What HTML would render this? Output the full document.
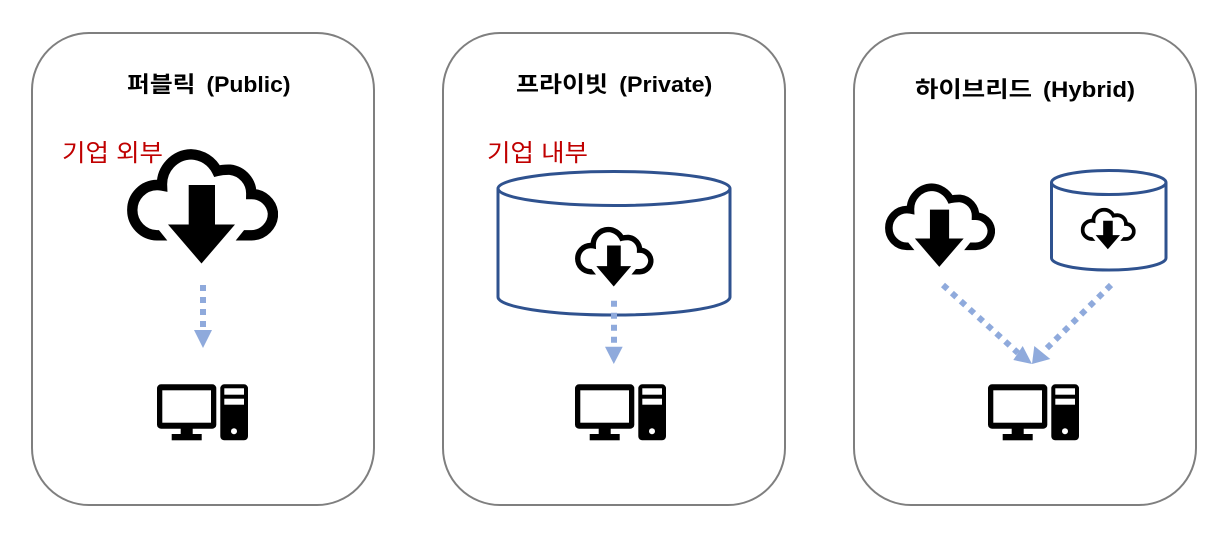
<!DOCTYPE html>
<html lang="ko">
<head>
<meta charset="utf-8">
<style>
html,body{margin:0;padding:0;background:#fff;width:1229px;height:540px;overflow:hidden}
svg{display:block}
.t{font-family:"Liberation Sans","Noto Sans CJK KR",sans-serif;font-weight:700;font-size:22px;fill:#000}
.k{font-family:"Noto Sans CJK KR","Liberation Sans",sans-serif;font-weight:700;font-size:22px;fill:#000}
.r{font-family:"Noto Sans CJK KR","Liberation Sans",sans-serif;font-weight:400;font-size:24px;fill:#C00000}
.p{fill:#fff;stroke:#7f7f7f;stroke-width:2}
.c{fill:#fff;stroke:#2F528F;stroke-width:3}
.d{fill:none;stroke:#8FAADC;stroke-width:6;stroke-dasharray:6 6}
.h{fill:#8FAADC}
</style>
</head>
<body>
<svg width="1229" height="540" viewBox="0 0 1229 540" xmlns="http://www.w3.org/2000/svg">
<defs>
<symbol id="cloud" viewBox="127 149 151 115" preserveAspectRatio="none">
<path d="M175 235.300H157A25.200 25.200 0 0 1 132.300 210A25 25 0 0 1 157 185Q159.500 185 162 185.500A30 30 0 0 1 191 154.300A30 30 0 0 1 217 171Q223 169.500 230 169.700A24 24 0 0 1 251.300 194A21.500 21.500 0 0 1 273 213.500A21.800 21.800 0 0 1 251.500 235.300H228" fill="none" stroke="#000" stroke-width="10.400"/>
<polygon points="150,219 253,219 201.500,283" fill="#fff"/>
<polygon points="188.700,185 215,185 215,224.500 235,224.500 201.500,263.500 168,224.500 188.700,224.500" fill="#000"/>
</symbol>
<g id="pc">
<rect x="157" y="384.300" width="59.300" height="44.400" rx="4" fill="#000"/>
<rect x="162.300" y="390.300" width="48.700" height="32.400" fill="#fff"/>
<rect x="180.700" y="428" width="12" height="7" fill="#000"/>
<rect x="171.700" y="434" width="30" height="6.300" fill="#000"/>
<rect x="220.300" y="384.300" width="27.700" height="56" rx="4" fill="#000"/>
<rect x="224.300" y="388.300" width="19.700" height="6.400" fill="#fff"/>
<rect x="224.300" y="398.700" width="19.700" height="6" fill="#fff"/>
<circle cx="234" cy="431.300" r="3" fill="#fff"/>
</g>
</defs>

<rect class="p" x="32" y="33" width="342" height="472" rx="57"/>
<rect class="p" x="443" y="33" width="342" height="472" rx="57"/>
<rect class="p" x="854" y="33" width="342" height="472" rx="57"/>

<text class="k" x="127" y="92" textLength="68.500" lengthAdjust="spacingAndGlyphs">퍼블릭</text>
<text class="t" x="206.500" y="92" textLength="84" lengthAdjust="spacingAndGlyphs">(Public)</text>
<text class="k" x="516" y="92" textLength="92" lengthAdjust="spacingAndGlyphs">프라이빗</text>
<text class="t" x="619.300" y="92" textLength="93" lengthAdjust="spacingAndGlyphs">(Private)</text>
<text class="k" x="915" y="97" textLength="117" lengthAdjust="spacingAndGlyphs">하이브리드</text>
<text class="t" x="1043" y="97" textLength="92" lengthAdjust="spacingAndGlyphs">(Hybrid)</text>

<text class="r" x="62" y="161" textLength="101" lengthAdjust="spacingAndGlyphs">기업 외부</text>
<text class="r" x="487" y="161" textLength="101" lengthAdjust="spacingAndGlyphs">기업 내부</text>

<use href="#cloud" x="127" y="149" width="151" height="115"/>

<path class="c" d="M498 188.500V297A116 18 0 0 0 730 297V188.500"/>
<ellipse class="c" cx="614" cy="188.500" rx="116" ry="17"/>
<use href="#cloud" x="575" y="226.700" width="78.500" height="60"/>

<use href="#cloud" x="885" y="183.300" width="110" height="84"/>
<path class="c" d="M1051.500 182.500V258A57.250 12 0 0 0 1166 258V182.500"/>
<ellipse class="c" cx="1108.750" cy="182.500" rx="57.250" ry="12"/>
<use href="#cloud" x="1080.700" y="207.700" width="55" height="41.700"/>

<path class="d" d="M203 285V328"/>
<polygon class="h" points="194,330 212,330 203,348"/>
<path class="d" d="M614 300.700V345"/>
<polygon class="h" points="605,346.700 622.700,346.700 613.800,364"/>
<path class="d" d="M943 285L1018 353"/>
<polygon class="h" points="1013.300,360 1022.700,346 1032,364"/>
<path class="d" d="M1111 285L1043 352"/>
<polygon class="h" points="1034.300,346 1050.300,359 1032,364"/>

<use href="#pc"/>
<use href="#pc" x="418"/>
<use href="#pc" x="831"/>
</svg>
</body>
</html>
